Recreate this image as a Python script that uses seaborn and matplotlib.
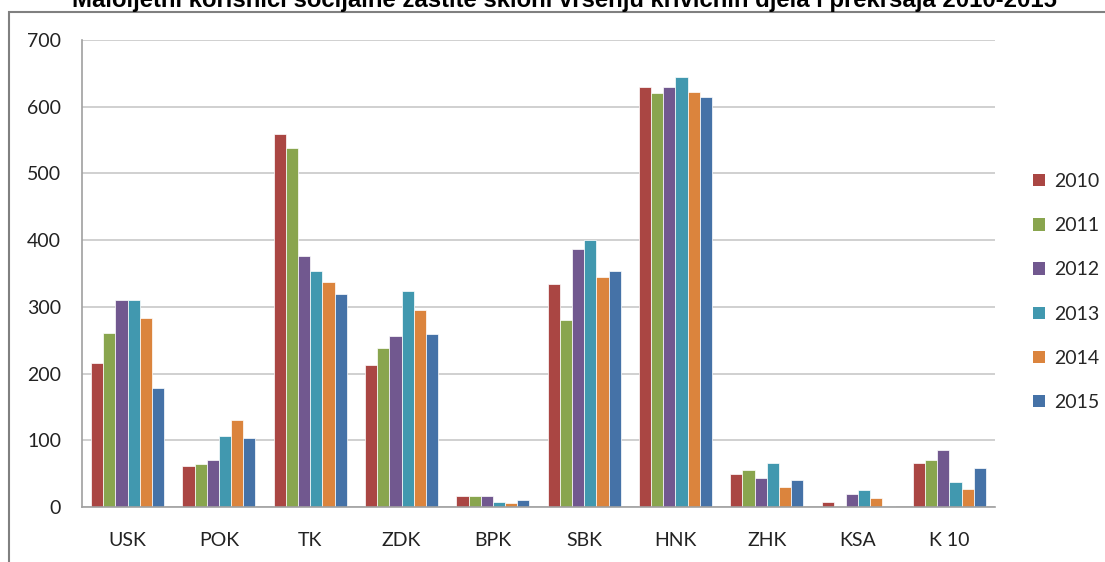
import numpy as np
import pandas as pd
import seaborn as sns
import matplotlib.pyplot as plt
from matplotlib.patches import Rectangle

# data
regions = ['USK', 'POK', 'TK', 'ZDK', 'BPK', 'SBK', 'HNK', 'ZHK', 'KSA', 'K 10']
years = ['2010', '2011', '2012', '2013', '2014', '2015']
v2010 = [216, 62, 559, 213, 16, 335, 629, 49, 7, 66]
v2011 = [261, 64, 538, 239, 16, 280, 620, 55, 2, 71]
v2012 = [311, 71, 376, 256, 16, 387, 629, 43, 19, 86]
v2013 = [311, 106, 353, 324, 8, 400, 644, 66, 25, 38]
v2014 = [283, 130, 338, 296, 6, 344, 622, 30, 14, 27]
v2015 = [178, 104, 320, 259, 10, 354, 614, 40, 2, 58]
colors = ['#AA4643', '#89A54E', '#71588F', '#4198AF', '#DB843D', '#4572A7']
title = 'Maloljetni korisnici socijalne zaštite skloni vršenju krivičnih djela i prekršaja 2010-2015'

series = [v2010, v2011, v2012, v2013, v2014, v2015]
df = pd.DataFrame({
    'Region': regions * len(years),
    'Year': [y for y in years for _ in regions],
    'Value': [v for s in series for v in s],
})

sns.set_style('white')
plt.rcParams['font.family'] = ['Lato', 'DejaVu Sans']

fig = plt.figure(figsize=(11.05, 5.62), dpi=100)
ax = fig.add_axes([0.0742, 0.0979, 0.8263, 0.8309])

sns.barplot(data=df, x='Region', y='Value', hue='Year', palette=colors,
            saturation=1, width=0.8, gap=0, edgecolor='white', linewidth=0.5, ax=ax)

ax.set_ylim(0, 700)
ax.set_yticks(range(0, 701, 100))
ax.set_xlim(-0.5, len(regions) - 0.5)
ax.yaxis.grid(True, color='#c8c8c8', linewidth=1.2)
ax.set_axisbelow(True)
ax.set_xlabel('')
ax.set_ylabel('')
for side in ['top', 'right']:
    ax.spines[side].set_visible(False)
for side in ['left', 'bottom']:
    ax.spines[side].set_color('#a0a0a0')
    ax.spines[side].set_linewidth(1.2)
ax.tick_params(axis='y', length=0, pad=15, labelsize=14, labelcolor='#222222')
ax.tick_params(axis='x', length=0, pad=18, labelsize=14, labelcolor='#222222')

leg = ax.legend(loc='upper left', bbox_to_anchor=(1033 / 1105, 1 - 173 / 562),
                bbox_transform=fig.transFigure, frameon=False, fontsize=14,
                handlelength=0.6, handleheight=0.6, handletextpad=0.5,
                labelspacing=1.4, borderaxespad=0, borderpad=0)
for h in leg.legend_handles:
    h.set_edgecolor('none')

# outer chart frame, partly cut off like the reference
fig.patches.append(Rectangle((9 / 1105, -0.1), 1.2, 1 - 12 / 562 + 0.1,
                             transform=fig.transFigure, fill=False,
                             edgecolor='#808080', linewidth=1.5))

fig.text(564 / 1105, 1 - 7 / 562, title, ha='center', va='baseline',
         fontsize=17.2, fontweight='bold', family='Liberation Sans', color='black')

fig.savefig('out.png', dpi=100)
